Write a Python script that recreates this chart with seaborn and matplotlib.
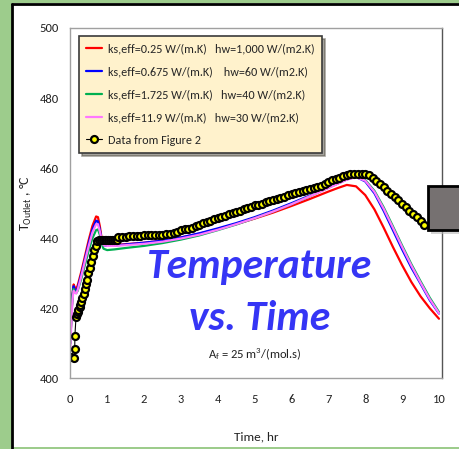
import numpy as np
import pandas as pd
import matplotlib
matplotlib.use("Agg")
import matplotlib.pyplot as plt
from matplotlib.patches import Rectangle
import seaborn as sns

# simulated outlet temperature, common time grid (hr)
t_sim = [0, 0.03, 0.06, 0.09, 0.12, 0.16, 0.2, 0.3, 0.4, 0.5, 0.6, 0.7, 0.75, 0.8,
         0.85, 0.9, 1.0, 1.2, 1.5, 2, 2.5, 3, 3.5, 4, 4.5, 5, 5.5, 6, 6.5, 7, 7.25,
         7.5, 7.75, 8.0, 8.25, 8.5, 8.75, 9.0, 9.25, 9.5, 9.75, 10.0]
T_red = [410, 418, 424, 426.8, 426.0, 425.5, 426.5, 430.5, 435.0, 439.5, 443.5, 446.2,
         446.0, 443.5, 440.0, 438.3, 438.0, 438.0, 438.3, 438.7, 439.3, 440.2, 441.3,
         442.6, 444.0, 445.6, 447.3, 449.2, 451.2, 453.3, 454.3, 455.2, 454.8, 452.3,
         448.2, 443.0, 437.5, 432.3, 427.5, 423.4, 420.0, 417.0]
T_blue = [410, 418, 424, 426.3, 425.3, 424.8, 425.8, 429.8, 434.2, 438.6, 442.5, 445.0,
          444.8, 442.5, 439.6, 438.0, 437.8, 437.9, 438.2, 438.7, 439.3, 440.2, 441.4,
          442.8, 444.3, 446.0, 447.9, 450.0, 452.2, 454.5, 455.6, 456.8, 457.5, 456.2,
          452.8, 447.8, 442.3, 436.8, 431.6, 427.0, 422.3, 418.5]
T_green = [410, 417.5, 423.5, 425.5, 424.8, 424.3, 425.0, 428.5, 432.5, 436.5, 440.0,
           442.3, 442.5, 441.0, 438.5, 437.0, 436.6, 436.8, 437.2, 437.8, 438.6, 439.6,
           440.8, 442.3, 443.9, 445.7, 447.6, 449.7, 452.0, 454.4, 455.6, 456.8, 457.6,
           456.6, 453.5, 448.8, 443.4, 437.9, 432.6, 427.7, 423.0, 418.9]
T_pink = [408.5, 416, 422.5, 425.0, 424.5, 424.2, 425.2, 429.2, 433.6, 437.8, 441.6, 444.0,
          444.0, 442.0, 439.6, 438.0, 437.8, 437.8, 438.0, 438.4, 439.0, 439.9, 441.0,
          442.4, 444.0, 445.7, 447.6, 449.7, 452.0, 454.3, 455.5, 456.7, 457.4, 456.4,
          453.2, 448.4, 443.0, 437.5, 432.2, 427.3, 422.6, 418.6]

case_labels = ["ks,eff=0.25 W/(m.K)   hw=1,000 W/(m2.K)",
               "ks,eff=0.675 W/(m.K)    hw=60 W/(m2.K)",
               "ks,eff=1.725 W/(m.K)   hw=40 W/(m2.K)",
               "ks,eff=11.9 W/(m.K)   hw=30 W/(m2.K)"]
case_colors = ["#FF0000", "#0000FF", "#00B050", "#FF77FF"]

t_fig2 = [0.02, 0.11, 0.12, 0.125, 0.155, 0.18, 0.20, 0.22, 0.25, 0.27, 0.30, 0.33, 0.36,
          0.39, 0.42, 0.45, 0.49, 0.53, 0.57, 0.61, 0.65, 0.69, 0.73, 0.78, 0.83, 0.88,
          0.93, 0.98, 1.03, 1.08, 1.13, 1.18, 1.23, 1.28,
          1.3, 1.4, 1.5, 1.6, 1.7, 1.8, 1.9, 2.0, 2.1, 2.2, 2.3, 2.4, 2.5, 2.6, 2.7, 2.8,
          2.9, 3.0, 3.1, 3.2, 3.3, 3.4, 3.5, 3.6, 3.7, 3.8, 3.9, 4.0, 4.1, 4.2, 4.3, 4.4,
          4.5, 4.6, 4.7, 4.8, 4.9, 5.0, 5.1, 5.2, 5.3, 5.4, 5.5, 5.6, 5.7, 5.8, 5.9, 6.0,
          6.1, 6.2, 6.3, 6.4, 6.5, 6.6, 6.7, 6.8, 6.9, 7.0, 7.1, 7.2, 7.3, 7.4, 7.5, 7.6,
          7.7, 7.8, 7.9, 8.0, 8.1, 8.2, 8.3, 8.4, 8.5, 8.6, 8.7, 8.8, 8.9, 9.0, 9.1, 9.2,
          9.3, 9.4, 9.5, 9.6]
T_fig2 = [406.2, 405.7, 408.3, 412.2, 417.6, 418.3, 418.9, 419.5, 420.4, 421.0, 421.9,
          422.9, 424.2, 425.5, 426.9, 428.2, 430.0, 431.6, 433.2, 434.9, 436.5, 437.9,
          439.1, 439.4, 439.4, 439.4, 439.4, 439.4, 439.4, 439.4, 439.4, 439.4, 439.5, 439.6,
          440.3, 440.4, 440.4, 440.5, 440.5, 440.6, 440.7, 440.9, 441.0, 441.0, 441.0,
          441.0, 441.0, 441.1, 441.2, 441.5, 441.9, 442.3, 442.5, 442.6, 443.0, 443.5,
          443.9, 444.2, 444.5, 445.0, 445.5, 445.8, 446.0, 446.4, 446.8, 447.2, 447.5,
          447.8, 448.2, 448.6, 449.0, 449.4, 449.6, 449.9, 450.2, 450.6, 451.0, 451.2,
          451.4, 451.8, 452.2, 452.6, 452.9, 453.2, 453.5, 453.8, 454.1, 454.4, 454.6,
          455.0, 455.6, 456.1, 456.5, 456.9, 457.3, 457.7, 458.0, 458.2, 458.2, 458.2,
          458.2, 458.2, 458.0, 457.3, 456.4, 455.5, 454.5, 453.6, 452.6, 451.7, 450.8,
          449.8, 448.9, 447.9, 447.0, 446.0, 445.0, 443.8]

sns.set_theme(style="white")
plt.rcParams["font.family"] = ["Carlito", "DejaVu Sans"]
plt.rcParams["mathtext.fontset"] = "custom"
plt.rcParams["mathtext.rm"] = "Carlito"
plt.rcParams["mathtext.it"] = "Carlito:italic"

fig = plt.figure(figsize=(4.59, 4.49), dpi=100, facecolor="#9DCC8C")

# white card with black left/top border
fig.add_artist(Rectangle((11.5 / 459, 0.004), 1.2, 0.99, transform=fig.transFigure,
                         facecolor="white", edgecolor="none", zorder=-2))
fig.add_artist(plt.Line2D([11.5 / 459, 11.5 / 459], [0.0, 445 / 449], transform=fig.transFigure,
                          color="black", lw=2, zorder=-1))
fig.add_artist(plt.Line2D([11.5 / 459, 1.0], [445 / 449, 445 / 449], transform=fig.transFigure,
                          color="black", lw=2, zorder=-1))

ax = fig.add_axes([70.3 / 459, 70.7 / 449, 372 / 459, 350.3 / 449])
ax.set_facecolor("white")

sim = pd.DataFrame({
    "Time": np.tile(t_sim, 4),
    "T": T_red + T_blue + T_green + T_pink,
    "case": np.repeat(case_labels, len(t_sim)),
})
sns.lineplot(data=sim, x="Time", y="T", hue="case", hue_order=case_labels,
             palette=case_colors, linewidth=1.6, estimator=None, sort=False, ax=ax)
sns.lineplot(x=t_fig2, y=T_fig2, color="black", linewidth=0.8, marker="o",
             markersize=5.0, markerfacecolor="#FFFF00", markeredgecolor="black",
             markeredgewidth=1.6, estimator=None, sort=False, label="Data from Figure 2", ax=ax)

ax.set_xlim(0, 10.09)
ax.set_ylim(400, 500)
ax.set_xticks(range(0, 11))
ax.set_yticks(range(400, 501, 20))
ax.tick_params(length=0, labelsize=9, colors="#222222")
ax.tick_params(axis="x", pad=11)
ax.tick_params(axis="y", pad=8.5)
for side, sp in ax.spines.items():
    sp.set_color("#555555" if side == "right" else "#A0A0A0")
    sp.set_linewidth(1)

ax.set_xlabel("Time, hr", fontsize=9.5, labelpad=19, color="#222222")
ax.set_ylabel(r"T$_{\rm Outlet}$ , °C", fontsize=10, labelpad=4, color="#222222")

ax.text(5.14, 431.8, "Temperature", color="#3535F5", fontsize=30, fontweight="bold",
        fontstyle="italic", ha="center", va="center")
ax.text(5.14, 417.2, "vs. Time", color="#3535F5", fontsize=30, fontweight="bold",
        fontstyle="italic", ha="center", va="center")
ax.text(5.0, 407.0, r"A$_{\rm f}$ = 25 m$^{3}$/(mol.s)", fontsize=9, ha="center",
        va="center", color="#222222")

leg = ax.legend(loc="upper left", bbox_to_anchor=(0.0234, 0.977), borderaxespad=0,
                fontsize=8.7, frameon=True, fancybox=False, shadow=True, framealpha=1,
                facecolor="#FFF2CC", edgecolor="#3A3A3A", handlelength=1.3,
                handletextpad=0.5, labelspacing=0.98, borderpad=0.6)
leg.get_frame().set_linewidth(1.2)

# grey box sticking in from the right edge
fig.add_artist(Rectangle((431 / 459, (449 - 234) / 449), 0.2, 44 / 449, transform=fig.transFigure,
                         facecolor="#B8B8B8", edgecolor="none", alpha=0.6, zorder=4))
fig.add_artist(Rectangle((428 / 459, (449 - 230) / 449), 0.2, 44 / 449, transform=fig.transFigure,
                         facecolor="#767171", edgecolor="black", linewidth=2, zorder=5))

plt.savefig("out.png", dpi=100)
plt.close()
